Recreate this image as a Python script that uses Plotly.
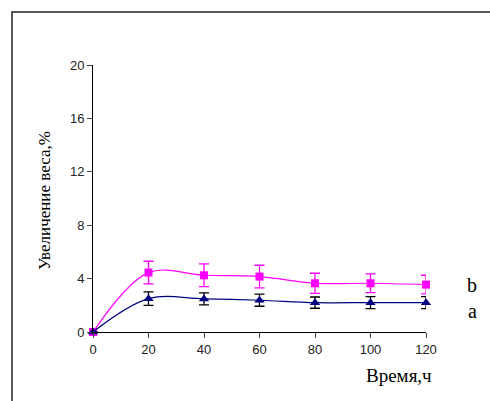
import plotly.graph_objects as go

hours = [0, 20, 40, 60, 80, 100, 120]
b_vals = [0, 4.45, 4.25, 4.15, 3.65, 3.65, 3.55]
b_err = [0, 0.85, 0.85, 0.85, 0.75, 0.7, 0.7]
a_vals = [0, 2.5, 2.48, 2.38, 2.2, 2.2, 2.2]
a_err = [0, 0.5, 0.45, 0.45, 0.42, 0.45, 0.45]
y_ticks = [0, 4, 8, 12, 16, 20]
x_ticks = [0, 20, 40, 60, 80, 100, 120]

W, H = 490, 401
L, R, T, B = 93, 426, 65, 332

fig = go.Figure()
fig.add_trace(go.Scatter(
    x=hours, y=b_vals, mode="lines+markers",
    line=dict(color="#FF00FF", width=1.2, shape="spline", smoothing=1.0),
    marker=dict(symbol="square", size=8, color="#FF00FF"),
    error_y=dict(type="data", array=b_err, color="#FF00FF", thickness=1.3, width=5),
    cliponaxis=False, showlegend=False))
fig.add_trace(go.Scatter(
    x=hours, y=a_vals, mode="lines+markers",
    line=dict(color="#000080", width=1.2, shape="spline", smoothing=1.0),
    marker=dict(symbol="triangle-up", size=9, color="#000080"),
    error_y=dict(type="data", array=a_err, color="#000000", thickness=1.3, width=5),
    cliponaxis=False, showlegend=False))

pw = R - L
ph = B - T
def px(x):
    return (x - L) / pw
def py(y):
    return (B - y) / ph

serif = "Liberation Serif, Times New Roman"
fig.update_layout(
    width=W, height=H,
    margin=dict(l=L, r=W - R, t=T, b=H - B),
    paper_bgcolor="white", plot_bgcolor="white",
    font=dict(family="Liberation Sans, Arial", size=13, color="black"),
    xaxis=dict(range=[0, 120], tickvals=x_ticks, ticks="outside", ticklen=5,
               showline=True, linecolor="black", linewidth=1, showgrid=False,
               zeroline=False, tickfont=dict(size=13, color="#222")),
    yaxis=dict(range=[0, 20], tickvals=y_ticks, ticks="outside", ticklen=5,
               showline=True, linecolor="black", linewidth=1, showgrid=False,
               zeroline=False, tickfont=dict(size=13, color="#222")),
    shapes=[dict(type="rect", xref="paper", yref="paper",
                 x0=px(12), x1=px(W + 10), y0=py(H + 10), y1=py(12),
                 line=dict(color="#222", width=1.5))],
    annotations=[
        dict(text="Увеличение веса,%", xref="paper", yref="paper",
             x=px(44), y=py(201), xanchor="center", yanchor="middle",
             textangle=-90, showarrow=False,
             font=dict(family=serif, size=17)),
        dict(text="Время,ч", xref="paper", yref="paper",
             x=px(399), y=py(375), xanchor="center", yanchor="middle",
             showarrow=False, font=dict(family=serif, size=19)),
        dict(text="b", xref="paper", yref="paper",
             x=px(472), y=py(285), xanchor="center", yanchor="middle",
             showarrow=False, font=dict(family=serif, size=20)),
        dict(text="a", xref="paper", yref="paper",
             x=px(472), y=py(311), xanchor="center", yanchor="middle",
             showarrow=False, font=dict(family=serif, size=20)),
    ],
)
fig.write_html("out.html")
